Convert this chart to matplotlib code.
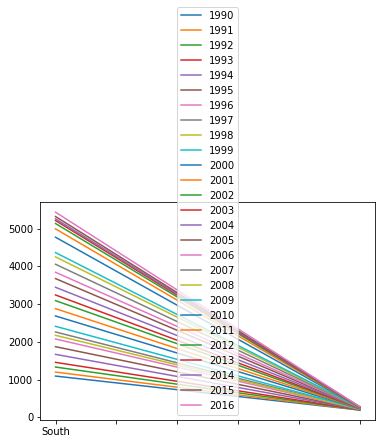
import matplotlib
matplotlib.use("Agg")
import matplotlib.pyplot as plt
import numpy as np

# regions on the x axis (only the first is labelled in the original)
regions = ["South", ""]

years = list(range(1990, 2017))

# value per year for each region
south = [1095, 1201, 1334, 1458, 1670, 1873, 2076, 2262, 2173, 2412,
         2686, 2880, 3092, 3242, 3445, 3675, 3843, 4055, 4249, 4364,
         4770, 4991, 5133, 5212, 5256, 5318, 5433]
other = [195, 198, 200, 204, 208, 212, 216, 222, 220, 226,
         232, 236, 240, 244, 248, 252, 256, 260, 262, 265,
         268, 272, 274, 276, 278, 280, 284]

fig = plt.figure(figsize=(381 / 72, 444 / 72), dpi=72)
ax = fig.add_axes([0.1058, 0.0541, 0.8785, 0.4903])

x = np.arange(len(regions))
for yr, s, o in zip(years, south, other):
    ax.plot(x, [s, o], label=str(yr))

ticks = np.linspace(0, 1, 6)
ax.set_xticks(ticks)
ax.set_xticklabels([regions[0]] + [""] * 5)

ax.legend(loc="lower center", fontsize=10)

fig.savefig("out.png", dpi=72)
